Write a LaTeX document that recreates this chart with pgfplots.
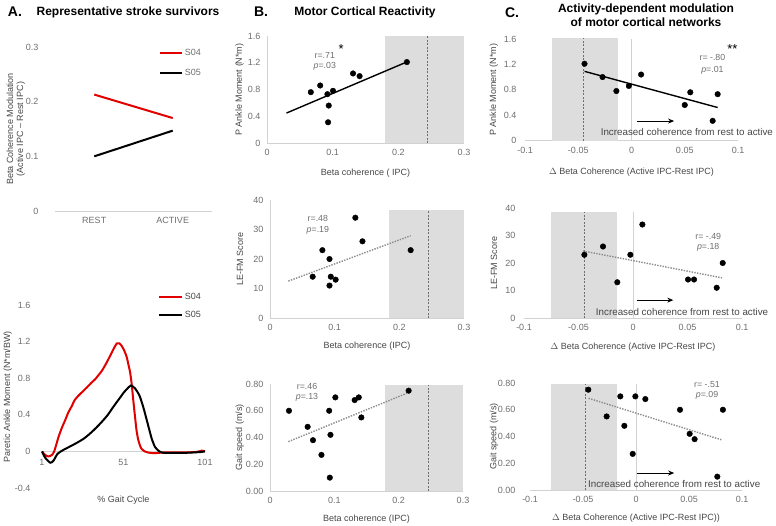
\documentclass[border=0pt]{standalone}
\usepackage{fontspec}
\setmainfont{Liberation Sans}
\usepackage{pgfplots}
\pgfplotsset{compat=1.18}
\usetikzlibrary{arrows.meta}

\definecolor{tickgray}{RGB}{110,110,110}
\definecolor{labgray}{RGB}{70,70,70}
\definecolor{axisgray}{RGB}{210,210,210}
\definecolor{boxgray}{RGB}{221,221,221}
\definecolor{meancol}{RGB}{110,110,110}
\definecolor{regcol}{RGB}{140,140,140}
\definecolor{s04}{RGB}{225,0,0}

\tikzset{
  stat/.style={font=\fontsize{8.8}{10}\selectfont, text=tickgray, align=left},
  note/.style={font=\fontsize{9.8}{11}\selectfont, text=labgray},
  ttl/.style={font=\fontsize{12}{14}\bfseries\selectfont},
  lett/.style={font=\fontsize{14}{16}\bfseries\selectfont},
}

\pgfplotsset{
  panel/.style={scale only axis, anchor=south west, clip=false,
    tick style={draw=none},
    ticklabel style={font=\fontsize{9}{10}\selectfont, text=tickgray},
    label style={font=\fontsize{9}{10}\selectfont, text=labgray},
    axis line style={draw=axisgray, line width=0.8pt, -},
    hide obscured x ticks=false, hide obscured y ticks=false},
  bpanel/.style={panel, axis lines*=left,
    xmin=0, xmax=0.3, xtick={0,0.1,0.2,0.3}, xticklabels={0,0.1,0.2,0.3},
    yticklabel style={xshift=-3pt}, xticklabel style={yshift=-3pt},
    xlabel style={at={(axis description cs:0.5,0)}, anchor=north, yshift=-20pt}},
  cpanel/.style={panel, axis lines*=left, y axis line style={draw=none},
    xmin=-0.1, xmax=0.1, xtick={-0.1,-0.05,0,0.05,0.1},
    xticklabels={-0.1,-0.05,0,0.05,0.1},
    yticklabel style={xshift=-5pt}, xticklabel style={yshift=-3pt}},
  dot/.style={only marks, mark=*, mark size=2.8pt, black},
  regsolid/.style={black, line width=1.4pt},
  regdot/.style={regcol, line width=1.4pt, dash pattern=on 1.4pt off 1.3pt},
  sdbox/.style={fill=boxgray, draw=none},
  meanline/.style={meancol, line width=0.9pt, dash pattern=on 2pt off 1.5pt},
  zeroline/.style={axisgray, line width=0.8pt},
}

\begin{document}
\begin{tikzpicture}
\useasboundingbox (0,0) rectangle (776pt,-525pt);

% titles
\node[lett] at (15pt,-12pt) {A.};
\node[ttl] at (128pt,-12pt) {Representative stroke survivors};
\node[lett] at (261pt,-12pt) {B.};
\node[ttl] at (365pt,-12pt) {Motor Cortical Reactivity};
\node[lett] at (512pt,-13pt) {C.};
\node[ttl, align=center] at (646pt,-15pt) {Activity-dependent modulation\\of motor cortical networks};

% ---------- A top ----------
\begin{axis}[panel, at={(55pt,-211pt)}, width=157pt, height=164pt,
  axis lines*=left, y axis line style={draw=none},
  xmin=-0.5, xmax=1.5, ymin=0, ymax=0.3,
  xtick={0,1}, xticklabels={REST,ACTIVE},
  ytick={0,0.1,0.2,0.3}, yticklabels={0,0.1,0.2,0.3},
  yticklabel style={xshift=-13pt}, xticklabel style={yshift=-3pt},
  ylabel={Beta Coherence Modulation\\(Active IPC – Rest IPC)},
  ylabel style={align=center, at={(axis description cs:-0.25,0.5)}, anchor=center},
  legend style={at={(axis description cs:0.66,1.0)}, anchor=north west, draw=none, fill=none,
    font=\fontsize{9}{10}\selectfont, text=tickgray, row sep=8pt, inner sep=0pt},
  legend cell align=left,
  legend image code/.code={\draw[#1] (0pt,0pt) -- (22pt,0pt);},
]
\addplot[s04, line width=2pt] coordinates {(0,0.213) (1,0.170)};
\addplot[black, line width=2pt] coordinates {(0,0.100) (1,0.147)};
\legend{S04,S05}
\end{axis}

% ---------- A bottom ----------
\begin{axis}[panel, at={(42pt,-488pt)}, width=163pt, height=183pt,
  axis x line=middle, axis y line=left, y axis line style={draw=none},
  xmin=1, xmax=101, ymin=-0.4, ymax=1.6,
  xtick={1,51,101}, xticklabels={1,51,101},
  ytick={-0.4,0,0.4,0.8,1.2,1.6}, yticklabels={-0.4,0,0.4,0.8,1.2,1.6},
  yticklabel style={xshift=-6pt}, xticklabel style={yshift=-2pt},
  xlabel={\% Gait Cycle},
  xlabel style={at={(axis description cs:0.5,0)}, anchor=north, yshift=-4pt,
    font=\fontsize{9}{10}\mdseries\selectfont, text=labgray},
  ylabel={Paretic Ankle Moment (N*m/BW)},
  ylabel style={at={(axis description cs:-0.21,0.5)}, anchor=center},
  legend style={at={(axis description cs:0.71,1.075)}, anchor=north west, draw=none, fill=none,
    font=\fontsize{9}{10}\selectfont, text=labgray, row sep=6pt, inner sep=0pt},
  legend cell align=left,
  legend image code/.code={\draw[#1] (0pt,0pt) -- (23pt,0pt);},
]
\addplot[s04, line width=2pt, smooth, tension=0.4] coordinates {
  (1,0) (3,-0.04) (5,-0.055) (7,-0.04) (8.5,0.0) (11,0.15) (13,0.25) (15.3,0.345)
  (17,0.42) (19.4,0.50) (21,0.56) (23.4,0.61) (26,0.655) (28.6,0.70) (31,0.745)
  (33.7,0.79) (35.5,0.83) (37.7,0.88) (40,0.95) (41.8,1.01) (43.5,1.07) (44.9,1.12)
  (46.9,1.18) (48.5,1.18) (50,1.15) (51.5,1.10) (53,1.03) (54,0.95) (55,0.87)
  (56,0.74) (57,0.56) (58,0.39) (59,0.23) (60,0.13) (61,0.07) (62,0.03) (64,0.0)
  (66,-0.012) (70,-0.02) (75,-0.012) (85,-0.01) (95,-0.008) (99,0.008) (101,0.0)};
\addplot[black, line width=2pt, smooth, tension=0.4] coordinates {
  (1,0) (3,-0.07) (6.1,-0.124) (8.1,-0.10) (10.6,-0.025) (14.3,0.018) (19.4,0.065)
  (23,0.10) (26.5,0.138) (29.5,0.18) (32.6,0.23) (35.7,0.285) (38.8,0.345) (41.4,0.40)
  (43.9,0.465) (46.5,0.53) (49,0.59) (51,0.64) (53,0.68) (55.5,0.72) (58,0.69)
  (60.8,0.61) (63.2,0.48) (65.9,0.30) (68.3,0.14) (70.4,0.047) (73,0.0)
  (75.5,-0.015) (80,-0.016) (89.8,-0.015) (98,-0.007) (101,0)};
\legend{S04,S05}
\end{axis}

% ---------- B top ----------
\begin{axis}[bpanel, at={(267pt,-143pt)}, width=197pt, height=107pt,
  ymin=0, ymax=1.6, ytick={0,0.4,0.8,1.2,1.6}, yticklabels={0,0.4,0.8,1.2,1.6},
  xlabel={Beta coherence ( IPC)}, ylabel={P Ankle Moment (N*m)},
  ylabel style={at={(axis description cs:-0.14,0.5)}, anchor=center},
  xlabel style={yshift=-2pt}]
\addplot[sdbox] coordinates {(0.18,1.6) (0.3,1.6)} \closedcycle;
\addplot[meanline] coordinates {(0.245,0) (0.245,1.6)};
\addplot[regsolid] coordinates {(0.0297,0.448) (0.2144,1.218)};
\addplot[dot] coordinates {(0.0667,0.76) (0.081,0.86) (0.092,0.73) (0.1005,0.78)
  (0.094,0.56) (0.093,0.31) (0.131,1.04) (0.141,1.0) (0.213,1.21)};
\node[stat] at (axis cs:0.088,1.31) {r=.71};
\node[stat] at (axis cs:0.088,1.145) {\textit{p}=.03};
\node[font=\fontsize{13}{13}\selectfont] at (axis cs:0.113,1.40) {*};
\end{axis}

% ---------- B middle ----------
\begin{axis}[bpanel, at={(270pt,-318pt)}, width=194pt, height=118pt,
  ymin=0, ymax=40, ytick={0,10,20,30,40}, yticklabels={0,10,20,30,40},
  xlabel={Beta coherence (IPC)}, ylabel={LE-FM Score},
  ylabel style={at={(axis description cs:-0.155,0.5)}, anchor=center}]
\addplot[sdbox] coordinates {(0.184,36.6) (0.3,36.6)} \closedcycle;
\addplot[meanline] coordinates {(0.245,0) (0.245,36.6)};
\addplot[regdot] coordinates {(0.0284,12.5) (0.2175,27.9)};
\addplot[dot] coordinates {(0.066,14) (0.081,23) (0.092,20) (0.094,14)
  (0.1015,13) (0.092,11) (0.132,34) (0.143,26) (0.2175,23)};
\node[stat] at (axis cs:0.074,33.6) {r=.48};
\node[stat] at (axis cs:0.074,29.8) {\textit{p}=.19};
\end{axis}

% ---------- B bottom ----------
\begin{axis}[bpanel, at={(270pt,-491pt)}, width=193pt, height=107pt,
  ymin=0, ymax=0.8, ytick={0,0.2,0.4,0.6,0.8}, yticklabels={0.00,0.20,0.40,0.60,0.80},
  xlabel={Beta coherence (IPC)}, ylabel={Gait speed (m/s)},
  ylabel style={at={(axis description cs:-0.157,0.5)}, anchor=center}]
\addplot[sdbox] coordinates {(0.179,0.79) (0.3,0.79)} \closedcycle;
\addplot[meanline] coordinates {(0.246,0) (0.246,0.79)};
\addplot[regdot] coordinates {(0.0285,0.369) (0.2124,0.730)};
\addplot[dot] coordinates {(0.0295,0.60) (0.0585,0.48) (0.0668,0.38) (0.080,0.27)
  (0.092,0.60) (0.094,0.42) (0.093,0.10) (0.1016,0.70) (0.1316,0.68) (0.138,0.70)
  (0.142,0.55) (0.2155,0.75)};
\node[stat] at (axis cs:0.0575,0.785) {r=.46};
\node[stat] at (axis cs:0.0575,0.703) {\textit{p}=.13};
\end{axis}

% ---------- C top ----------
\begin{axis}[cpanel, at={(525pt,-140.5pt)}, width=213pt, height=101.5pt,
  ymin=0, ymax=1.6, ytick={0,0.4,0.8,1.2,1.6}, yticklabels={0,0.4,0.8,1.2,1.6},
  xlabel={$\Delta$ Beta Coherence (Active IPC-Rest IPC)}, ylabel={P Ankle Moment (N*m)},
  ylabel style={at={(axis description cs:-0.146,0.5)}, anchor=center},
  xlabel style={at={(axis description cs:0.5,0)}, anchor=north, yshift=-24pt}]
\addplot[sdbox] coordinates {(-0.075,1.62) (-0.013,1.62)} \closedcycle;
\addplot[meanline] coordinates {(-0.045,0) (-0.045,1.62)};
\addplot[zeroline] coordinates {(0,0) (0,1.6)};
\addplot[regsolid] coordinates {(-0.0441,1.09) (0.0809,0.52)};
\addplot[dot] coordinates {(-0.0441,1.21) (-0.0272,1.0) (-0.0142,0.78) (-0.0025,0.86)
  (0.009,1.04) (0.05,0.56) (0.0552,0.76) (0.0762,0.31) (0.0809,0.73)};
\node[stat] at (axis cs:0.076,1.315) {r= -.80};
\node[stat] at (axis cs:0.076,1.11) {\textit{p}=.01};
\node[font=\fontsize{13}{13}\selectfont] at (axis cs:0.0947,1.44) {**};
\draw[-{Stealth[length=6pt,width=5pt]}, line width=0.9pt] (axis cs:0.005,0.307) -- (axis cs:0.040,0.307);
\node[note] at (axis cs:0.052,0.134) {Increased coherence from rest to active};
\end{axis}

% ---------- C middle ----------
\begin{axis}[cpanel, at={(524pt,-318pt)}, width=218pt, height=110pt,
  ymin=0, ymax=40, ytick={0,10,20,30,40}, yticklabels={0,10,20,30,40},
  xlabel={$\Delta$ Beta Coherence (Active IPC-Rest IPC)}, ylabel={LE-FM Score},
  ylabel style={at={(axis description cs:-0.138,0.5)}, anchor=center},
  xlabel style={at={(axis description cs:0.5,0)}, anchor=north, yshift=-21pt}]
\addplot[sdbox] coordinates {(-0.075,38.5) (-0.0147,38.5)} \closedcycle;
\addplot[meanline] coordinates {(-0.045,0) (-0.045,38.5)};
\addplot[zeroline] coordinates {(0,0) (0,38.5)};
\addplot[regdot] coordinates {(-0.0459,24.4) (0.0817,14.6)};
\addplot[dot] coordinates {(-0.0446,23) (-0.0275,26) (-0.0144,13) (-0.0024,23)
  (0.0086,34) (0.0505,14) (0.056,14) (0.0768,11) (0.0823,20)};
\node[stat] at (axis cs:0.069,29.5) {r= -.49};
\node[stat] at (axis cs:0.069,25.8) {\textit{p}=.18};
\draw[-{Stealth[length=6pt,width=5pt]}, line width=0.9pt] (axis cs:0.004,6.5) -- (axis cs:0.037,6.5);
\node[note] at (axis cs:0.045,2.2) {Increased coherence from rest to active};
\end{axis}

% ---------- C bottom ----------
\begin{axis}[cpanel, at={(530pt,-490pt)}, width=212pt, height=107pt,
  ymin=0, ymax=0.8, ytick={0,0.2,0.4,0.6,0.8}, yticklabels={0.00,0.20,0.40,0.60,0.80},
  xlabel={$\Delta$ Beta Coherence (Active IPC-Rest IPC))}, ylabel={Gait speed (m/s)},
  xlabel style={at={(axis description cs:0.5,0)}, anchor=north, yshift=-20pt},
  ylabel style={at={(axis description cs:-0.17,0.5)}, anchor=center},
  yticklabel style={xshift=-6pt}]
\addplot[sdbox] coordinates {(-0.080,0.79) (-0.018,0.79)} \closedcycle;
\addplot[meanline] coordinates {(-0.048,0) (-0.048,0.79)};
\addplot[zeroline] coordinates {(0,0) (0,0.79)};
\addplot[regdot] coordinates {(-0.0447,0.686) (0.0811,0.374)};
\addplot[dot] coordinates {(-0.045,0.75) (-0.0148,0.70) (-0.0006,0.70) (0.0088,0.68)
  (0.0415,0.60) (0.082,0.60) (-0.0277,0.55) (-0.011,0.48) (0.0506,0.42)
  (0.0553,0.38) (-0.0031,0.27) (0.0767,0.10)};
\node[stat] at (axis cs:0.067,0.79) {r= -.51};
\node[stat] at (axis cs:0.067,0.71) {\textit{p}=.09};
\draw[-{Stealth[length=6pt,width=5pt]}, line width=0.9pt] (axis cs:0.001,0.127) -- (axis cs:0.036,0.127);
\node[note] at (axis cs:0.036,0.045) {Increased coherence from rest to active};
\end{axis}
\end{tikzpicture}
\end{document}
